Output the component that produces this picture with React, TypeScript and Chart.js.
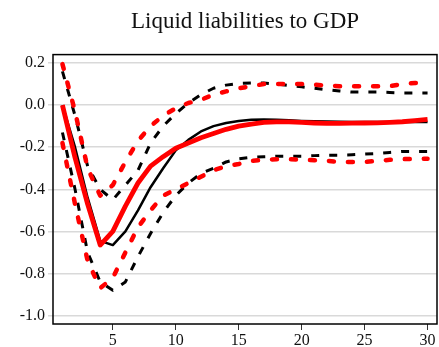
import React, { useEffect, useRef } from "react";
import { Chart, registerables } from "chart.js";

Chart.register(...registerables);

// Impulse-response horizon (periods after the shock)
const periods = [
  1, 2, 3, 4, 5, 6, 7, 8, 9, 10, 11, 12, 13, 14, 15,
  16, 17, 18, 19, 20, 21, 22, 23, 24, 25, 26, 27, 28, 29, 30,
];

// Model A (black): response and its confidence band
const responseA = [
  0.0, -0.2, -0.44, -0.645, -0.665, -0.6, -0.5, -0.39, -0.3, -0.215,
  -0.165, -0.125, -0.1, -0.085, -0.075, -0.07, -0.068, -0.07, -0.072, -0.075,
  -0.077, -0.078, -0.079, -0.08, -0.08, -0.08, -0.08, -0.08, -0.08, -0.08,
];
const upperA = [
  0.16, -0.05, -0.29, -0.4, -0.45, -0.38, -0.31, -0.18, -0.1, -0.04,
  0.01, 0.05, 0.08, 0.095, 0.103, 0.105, 0.105, 0.1, 0.093, 0.087,
  0.08, 0.073, 0.067, 0.062, 0.062, 0.062, 0.06, 0.057, 0.057, 0.057,
];
const lowerA = [
  -0.13, -0.4, -0.7, -0.84, -0.88, -0.84, -0.72, -0.61, -0.51, -0.43,
  -0.37, -0.325, -0.3, -0.27, -0.255, -0.248, -0.245, -0.243, -0.243, -0.243,
  -0.24, -0.238, -0.238, -0.236, -0.233, -0.23, -0.225, -0.22, -0.22, -0.22,
];

// Model B (red): response and its confidence band
const responseB = [
  0.0, -0.25, -0.47, -0.665, -0.6, -0.48, -0.37, -0.29, -0.245, -0.205,
  -0.18, -0.155, -0.135, -0.115, -0.1, -0.09, -0.082, -0.08, -0.08, -0.082,
  -0.085, -0.087, -0.087, -0.086, -0.085, -0.084, -0.082, -0.079, -0.074, -0.068,
];
const upperB = [
  0.195, -0.03, -0.3, -0.43, -0.38, -0.27, -0.17, -0.1, -0.05, -0.015,
  0.01, 0.025, 0.05, 0.065, 0.08, 0.09, 0.1, 0.1, 0.1, 0.1,
  0.097, 0.093, 0.09, 0.09, 0.09, 0.09, 0.09, 0.1, 0.105, 0.11,
];
const lowerB = [
  -0.18, -0.47, -0.74, -0.87, -0.82, -0.7, -0.58, -0.5, -0.43, -0.4,
  -0.37, -0.34, -0.31, -0.29, -0.28, -0.265, -0.26, -0.257, -0.257, -0.26,
  -0.262, -0.265, -0.27, -0.27, -0.27, -0.265, -0.26, -0.257, -0.255, -0.255,
];

const yTicks = [0.2, 0.0, -0.2, -0.4, -0.6, -0.8, -1.0];
const xTicks = [5, 10, 15, 20, 25, 30];

const SERIF = "'Times New Roman', 'Liberation Serif', serif";

const toPoints = (values: number[]) =>
  values.map((y, i) => ({ x: periods[i], y }));

// Black frame around the plotting area
const framePlugin = {
  id: "frame",
  afterDatasetsDraw(chart: Chart) {
    const { ctx, chartArea } = chart;
    ctx.save();
    ctx.strokeStyle = "#000";
    ctx.lineWidth = 1.5;
    ctx.strokeRect(
      chartArea.left,
      chartArea.top,
      chartArea.right - chartArea.left,
      chartArea.bottom - chartArea.top
    );
    ctx.restore();
  },
};

export default function App() {
  const canvasRef = useRef<HTMLCanvasElement | null>(null);

  useEffect(() => {
    if (!canvasRef.current) return;
    const solid = (data: number[], color: string, width: number) => ({
      data: toPoints(data),
      borderColor: color,
      borderWidth: width,
      pointRadius: 0,
      tension: 0,
      fill: false,
      borderJoinStyle: "round" as const,
    });
    const dashed = (
      data: number[],
      color: string,
      width: number,
      dash: number[],
      cap: "round" | "butt"
    ) => ({
      ...solid(data, color, width),
      borderDash: dash,
      borderCapStyle: cap,
    });

    const chart = new Chart(canvasRef.current, {
      type: "line",
      data: {
        datasets: [
          dashed(upperB, "#ff0000", 4.5, [5, 14], "round"),
          dashed(lowerB, "#ff0000", 4.5, [5, 14], "round"),
          solid(responseB, "#ff0000", 4.8),
          dashed(upperA, "#000000", 3, [8, 10], "butt"),
          dashed(lowerA, "#000000", 3, [8, 10], "butt"),
          solid(responseA, "#000000", 2.5),
        ],
      },
      options: {
        animation: false,
        responsive: false,
        maintainAspectRatio: false,
        layout: { padding: { left: 0, right: 2, top: 0, bottom: 0 } },
        plugins: {
          legend: { display: false },
          tooltip: { enabled: false },
          title: {
            display: true,
            fullSize: false,
            text: "Liquid liabilities to GDP",
            color: "#111",
            font: { family: SERIF, size: 23, weight: "normal" },
            padding: { top: 8, bottom: 19 },
          },
        },
        scales: {
          x: {
            type: "linear",
            min: 0.25,
            max: 30.75,
            afterBuildTicks: (scale: any) => {
              scale.ticks = xTicks.map((v) => ({ value: v }));
            },
            afterFit: (scale: any) => {
              scale.height = 23;
            },
            grid: {
              drawOnChartArea: false,
              drawTicks: true,
              tickLength: 6,
              color: "#333",
              lineWidth: 1,
            },
            border: { display: false },
            ticks: {
              color: "#111",
              padding: 1,
              maxRotation: 0,
              font: { family: SERIF, size: 16 },
              callback: (v: any) => String(v),
            },
          },
          y: {
            type: "linear",
            min: -1.04,
            max: 0.24,
            afterBuildTicks: (scale: any) => {
              scale.ticks = yTicks.map((v) => ({ value: v }));
            },
            afterFit: (scale: any) => {
              scale.width = 53;
            },
            grid: {
              drawTicks: true,
              tickLength: 5,
              color: "#d9d9d9",
              lineWidth: 1.5,
            },
            border: { display: false },
            ticks: {
              color: "#111",
              padding: 3,
              font: { family: SERIF, size: 16 },
              callback: (v: any) => Number(v).toFixed(1),
            },
          },
        },
      },
      plugins: [framePlugin],
    });
    return () => chart.destroy();
  }, []);

  return (
    <div
      style={{
        position: "absolute",
        left: 0,
        top: 0,
        width: 439,
        height: 347,
        background: "#fff",
      }}
    >
      <canvas ref={canvasRef} width={439} height={347} />
    </div>
  );
}
